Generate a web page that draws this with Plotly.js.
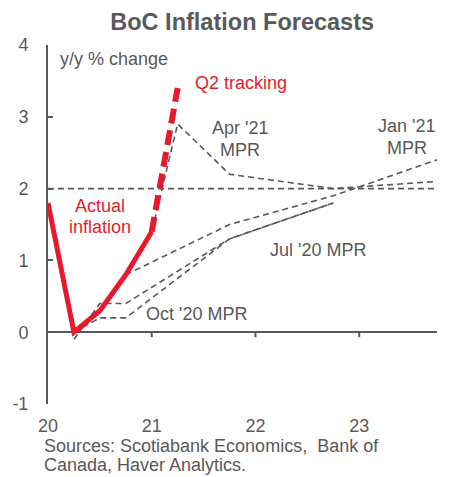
<!DOCTYPE html>
<html><head><meta charset="utf-8">
<script src="https://cdn.plot.ly/plotly-3.0.1.min.js"></script>
<style>body{margin:0;background:#fff}#c{width:451px;height:477px}</style>
</head><body><div id="c"></div>
<script>
// Data (x = year, quarterly: 20 = 2020Q1, 20.25 = 2020Q2 ...)
var actualX = [20, 20.25, 20.5, 20.75, 21];
var actualY = [1.8, 0.0, 0.3, 0.8, 1.4];
var q2X = [21, 21.25];
var q2Y = [1.4, 3.4];
var jul20X = [20.25, 20.5, 20.75, 21.75, 22.75];
var jul20Y = [-0.1, 0.4, 0.4, 1.3, 1.8];
var oct20X = [20.25, 20.5, 20.75, 21.75, 22.75];
var oct20Y = [0.0, 0.2, 0.2, 1.3, 1.8];
var jan21X = [20.75, 21.75, 22.75, 23.75];
var jan21Y = [0.8, 1.5, 1.9, 2.4];
var apr21X = [20.25, 20.5, 20.75, 21, 21.25, 21.75, 22.75, 23.75];
var apr21Y = [0.0, 0.3, 0.8, 1.4, 2.9, 2.2, 2.0, 2.1];
var targetY = 2;
var xTicks = [20, 21, 22, 23];
var xTickText = ['20', '21', '22', '23'];
var yTicks = [-1, 0, 1, 2, 3, 4];
var yTickText = ['-1', '0', '1', '2', '3', '4'];

var GRAY = '#595959', RED = '#E8192C';
var FONT = 'Liberation Sans, Arial, sans-serif';
var FS = 18;

function fc(x, y, d) {
  return {x: x, y: y, mode: 'lines', type: 'scatter', hoverinfo: 'skip',
    line: {color: GRAY, width: 1.6, dash: d || '6px,4px'}};
}
var traces = [
  fc(jul20X, jul20Y, '6px,4px'),
  fc(oct20X, oct20Y, '6px,4px'),
  fc(jan21X, jan21Y),
  fc(apr21X, apr21Y),
  {x: actualX, y: actualY, mode: 'lines', type: 'scatter', hoverinfo: 'skip',
   line: {color: RED, width: 5}},
  {x: q2X, y: q2Y, mode: 'lines', type: 'scatter', hoverinfo: 'skip',
   line: {color: RED, width: 6, dash: '15px,7px'}}
];

var shapes = [{type: 'line', xref: 'paper', yref: 'y', x0: 0, x1: 1, y0: targetY, y1: targetY,
  line: {color: GRAY, width: 1.6, dash: '6px,4px'}, layer: 'below'}];
xTicks.slice(1).forEach(function (t) {
  shapes.push({type: 'line', xref: 'x', yref: 'y', x0: t, x1: t, y0: 0, y1: -0.07,
    line: {color: GRAY, width: 2}});
});

function lab(text, x, y, color, xa) {
  return {text: text, x: x, y: y, xref: 'x', yref: 'y', showarrow: false,
    xanchor: xa || 'center', yanchor: 'middle', align: 'center',
    font: {family: FONT, size: FS, color: color || GRAY}};
}
function src(text, y) {
  return {text: text, xref: 'paper', yref: 'paper', x: -0.016, y: y, xanchor: 'left', yanchor: 'middle',
    align: 'left', showarrow: false, font: {family: FONT, size: FS, color: GRAY}};
}
var annotations = [
  lab('y/y % change', 20.1, 3.8, GRAY, 'left'),
  lab('Q2 tracking', 21.86, 3.47, RED),
  lab("Apr '21", 21.85, 2.84),
  lab('MPR', 21.85, 2.54),
  lab("Jan '21", 23.46, 2.87),
  lab('MPR', 23.46, 2.57),
  lab("Jul '20 MPR", 22.6, 1.14),
  lab("Oct '20 MPR", 21.43, 0.26),
  lab('Actual', 20.5, 1.76, RED),
  lab('inflation', 20.5, 1.46, RED),
  src('Sources: Scotiabank Economics,  Bank of', -0.116),
  src('Canada, Haver Analytics.', -0.171)
];

var layout = {
  width: 451, height: 477,
  margin: {l: 48, r: 14, t: 45, b: 73},
  paper_bgcolor: '#fff', plot_bgcolor: '#fff',
  showlegend: false,
  font: {family: FONT, size: FS, color: GRAY},
  title: {text: '<b>BoC Inflation Forecasts</b>', x: 0.537, xanchor: 'center', y: 0.954, yanchor: 'middle',
    font: {family: FONT, size: 23.5, color: GRAY}},
  xaxis: {range: [20, 23.75], tickvals: xTicks, ticktext: xTickText, showgrid: false, zeroline: false,
    showline: false, ticks: '', ticklabelstandoff: 9, tickfont: {size: FS, color: GRAY}, fixedrange: true},
  yaxis: {range: [-1, 4], tickvals: yTicks, ticktext: yTickText, showgrid: false, zeroline: true, zerolinecolor: GRAY, zerolinewidth: 2,
    showline: true, linecolor: GRAY, linewidth: 2, ticks: 'inside', ticklen: 5, tickwidth: 2, tickcolor: GRAY,
    ticklabelstandoff: 14, tickfont: {size: FS, color: GRAY}, fixedrange: true},
  shapes: shapes,
  annotations: annotations
};
Plotly.newPlot('c', traces, layout, {staticPlot: true});
</script></body></html>
